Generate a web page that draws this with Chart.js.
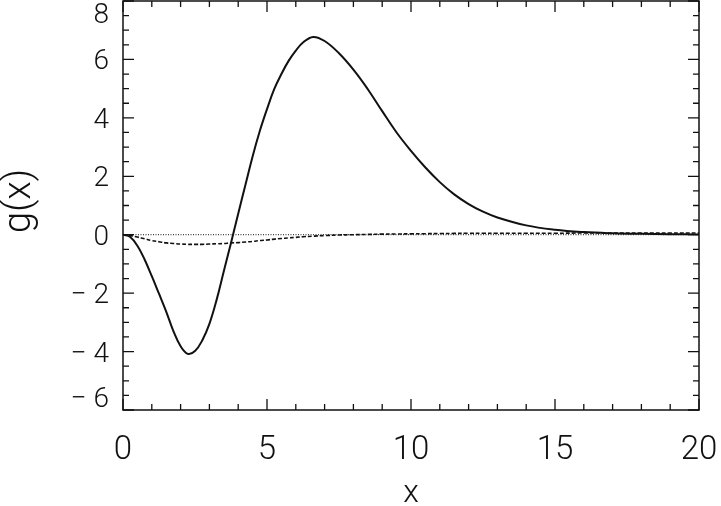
<!DOCTYPE html>
<html>
<head>
<meta charset="utf-8">
<script src="https://cdn.jsdelivr.net/npm/chart.js@4/dist/chart.umd.min.js"></script>
<style>
  html, body { margin: 0; padding: 0; background: #fff; }
  #wrap { width: 721px; height: 506px; position: relative; }
</style>
</head>
<body>
<div id="wrap"><canvas id="canvas1"></canvas></div>
<script>
// values
const xs = [0, 0.25, 0.5, 0.75, 1, 1.25, 1.5, 1.75, 2, 2.25, 2.5, 2.75, 3, 3.25, 3.5, 3.75, 4, 4.25, 4.5,
  4.75, 5, 5.25, 5.5, 5.75, 6, 6.25, 6.6, 7, 7.5, 8, 8.5, 9, 9.5, 10, 10.5, 11, 11.5, 12, 12.5, 13,
  14, 15, 16, 17, 18, 19, 20];
const gSolid = [0, -0.08, -0.38, -0.85, -1.42, -2.02, -2.63, -3.3, -3.82, -4.08, -3.98, -3.62, -3.05,
  -2.23, -1.25, -0.28, 0.72, 1.7, 2.68, 3.55, 4.3, 4.98, 5.5, 5.95, 6.3, 6.58, 6.77, 6.63, 6.21, 5.65,
  4.98, 4.23, 3.5, 2.87, 2.3, 1.8, 1.38, 1.05, 0.79, 0.59, 0.32, 0.17, 0.09, 0.05, 0.03, 0.02, 0.01];
const gDashed = [0, -0.03, -0.08, -0.14, -0.2, -0.24, -0.28, -0.3, -0.32, -0.33, -0.33, -0.33, -0.32,
  -0.31, -0.3, -0.28, -0.27, -0.25, -0.23, -0.2, -0.18, -0.15, -0.13, -0.11, -0.09, -0.07, -0.05,
  -0.03, -0.01, 0, 0.01, 0.02, 0.025, 0.03, 0.035, 0.04, 0.045, 0.05, 0.05, 0.05, 0.05, 0.05, 0.06,
  0.06, 0.06, 0.06, 0.06];
const zeroX = [0, 20];
const zeroY = [0, 0];

const xTicks = [0, 5, 10, 15, 20];
const yTicks = [-6, -4, -2, 0, 2, 4, 6, 8];

const FONT = "Roboto, 'Liberation Sans', Arial, sans-serif";
const INK = '#111';

const pts = (x, y) => x.map((v, i) => ({ x: v, y: y[i] }));

// IDL-like box with inward ticks on all four sides, plus y labels
const boxPlugin = {
  id: 'box',
  afterDraw(chart) {
    const ctx = chart.ctx;
    const a = chart.chartArea;
    const sx = chart.scales.x, sy = chart.scales.y;
    ctx.save();
    ctx.strokeStyle = INK;
    ctx.lineWidth = 1.5;
    ctx.strokeRect(a.left, a.top, a.right - a.left, a.bottom - a.top);

    ctx.lineWidth = 1.3;
    ctx.beginPath();
    for (let v = 0; v <= 20; v += 1) {
      const px = sx.getPixelForValue(v);
      const len = v % 5 === 0 ? 11 : 6;
      ctx.moveTo(px, a.bottom); ctx.lineTo(px, a.bottom - len);
      ctx.moveTo(px, a.top); ctx.lineTo(px, a.top + len);
    }
    for (let v = -6; v <= 8; v += 0.5) {
      const py = sy.getPixelForValue(v);
      const len = v % 2 === 0 ? 11 : 6;
      ctx.moveTo(a.left, py); ctx.lineTo(a.left + len, py);
      ctx.moveTo(a.right, py); ctx.lineTo(a.right - len, py);
    }
    ctx.stroke();

    ctx.fillStyle = INK;
    ctx.font = '300 28px ' + FONT;
    ctx.textAlign = 'right';
    ctx.textBaseline = 'middle';
    yTicks.forEach(v => {
      let py = sy.getPixelForValue(v) + 3;
      py = Math.max(a.top + 15, Math.min(a.bottom - 10, py));
      const txt = v < 0 ? '\u2212 ' + Math.abs(v) : String(v);
      ctx.fillText(txt, a.left - 14, py);
    });
    ctx.restore();
  }
};

new Chart(document.getElementById('canvas1'), {
  type: 'line',
  data: {
    datasets: [
      {
        data: pts(xs, gSolid),
        borderColor: INK,
        borderWidth: 2,
        pointRadius: 0,
        tension: 0.4
      },
      {
        data: pts(xs, gDashed),
        borderColor: INK,
        borderWidth: 1.6,
        borderDash: [4, 2],
        pointRadius: 0,
        tension: 0.4
      },
      {
        data: pts(zeroX, zeroY),
        borderColor: INK,
        borderWidth: 1,
        borderDash: [1, 1.5],
        pointRadius: 0
      }
    ]
  },
  options: {
    responsive: true,
    maintainAspectRatio: false,
    animation: false,
    layout: { padding: { top: 1, right: 22, left: 0, bottom: 0 } },
    plugins: {
      legend: { display: false },
      tooltip: { enabled: false }
    },
    scales: {
      x: {
        type: 'linear',
        min: 0,
        max: 20,
        afterBuildTicks: s => { s.ticks = xTicks.map(v => ({ value: v })); },
        grid: { display: false },
        border: { display: false },
        ticks: {
          color: INK,
          font: { family: FONT, size: 33, weight: '300' },
          padding: 13,
          maxRotation: 0
        },
        title: {
          display: true,
          text: 'x',
          color: INK,
          font: { family: FONT, size: 32, weight: '300' },
          padding: { top: 0, bottom: -7 }
        },
        afterFit: s => { s.height = 96; s.paddingLeft = 0; s.paddingRight = 0; }
      },
      y: {
        min: -6,
        max: 8,
        afterBuildTicks: s => { s.ticks = yTicks.map(v => ({ value: v })); },
        grid: { display: false },
        border: { display: false },
        ticks: { display: false },
        title: {
          display: true,
          text: ' g(x)',
          color: INK,
          font: { family: FONT, size: 38, weight: '300' },
          padding: { top: -2, bottom: 0 }
        },
        afterFit: s => { s.width = 123; }
      }
    }
  },
  plugins: [boxPlugin]
});
</script>
</body>
</html>
